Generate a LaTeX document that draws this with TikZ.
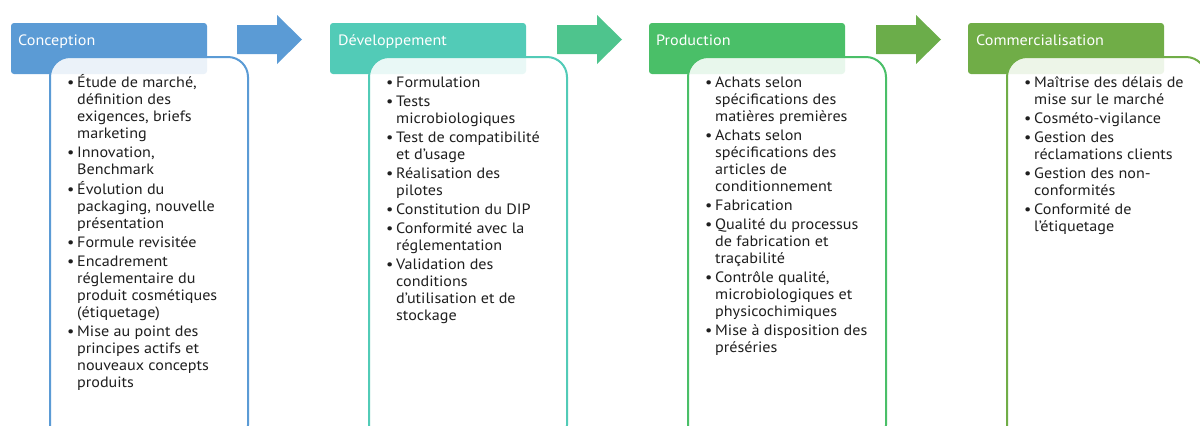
\documentclass[tikz,border=0pt]{standalone}
\usepackage{fontspec}
\setmainfont{PT Sans}[FakeStretch=1.075]
\definecolor{cblue}{HTML}{5B9BD5}
\definecolor{cteal}{HTML}{52CBB7}
\definecolor{cgreen}{HTML}{4ABF68}
\definecolor{colive}{HTML}{70AD47}
\definecolor{atwo}{HTML}{4EC48D}
\definecolor{athree}{HTML}{6BAD4A}
\newcommand\bl{\makebox[10bp][l]{•}}
\newcommand\ilist[1]{\begin{tabular}[t]{@{}l@{}l@{}}#1\end{tabular}}
\tikzset{
  headbox/.style={fill=#1, rounded corners=3bp},
  bodybox/.style={draw=#1, line width=2bp, fill=white, fill opacity=0.88, draw opacity=1, rounded corners=20bp},
  htext/.style={anchor=base west, inner sep=0pt, text=white, font=\fontsize{15bp}{17bp}\selectfont},
  ltext/.style={anchor=base west, inner sep=0pt, text=black!88, font=\fontsize{15bp}{17bp}\selectfont},
  flowarrow/.style={fill=#1},
}
\begin{document}
\begin{tikzpicture}[x=1bp,y=-1bp]
\useasboundingbox (0,0) rectangle (1200,425);
\clip (0,0) rectangle (1200,425);
% arrows
\foreach \o/\c in {0/cblue,320/atwo,639/athree}{
  \fill[flowarrow=\c] (237+\o,25) -- (277+\o,25) -- (277+\o,15) -- (302+\o,39.5) -- (277+\o,64) -- (277+\o,54) -- (237+\o,54) -- cycle;
}
% column 1
\fill[headbox=cblue] (11,23) rectangle (207,74);
\node[htext] (h1) at (18,45) {Conception};
\draw[bodybox=cblue] (50,57) rectangle (248,445);
\node[ltext] (l1) at (67,87) {\ilist{%
\bl & Étude de marché,\\ & définition des\\ & exigences, briefs\\ & marketing\\[2bp]
\bl & Innovation,\\ & Benchmark\\[2bp]
\bl & Évolution du\\ & packaging, nouvelle\\ & présentation\\[2bp]
\bl & Formule revisitée\\[2bp]
\bl & Encadrement\\ & réglementaire du\\ & produit cosmétiques\\ & (étiquetage)\\[2bp]
\bl & Mise au point des\\ & principes actifs et\\ & nouveaux concepts\\ & produits}};
% column 2
\fill[headbox=cteal] (330,23) rectangle (526,74);
\node[htext] (h2) at (338,45) {Développement};
\draw[bodybox=cteal] (369,57) rectangle (567,445);
\node[ltext] (l2) at (386,87) {\ilist{%
\bl & Formulation\\[2bp]
\bl & Tests\\ & microbiologiques\\[2bp]
\bl & Test de compatibilité\\ & et d'usage\\[2bp]
\bl & Réalisation des\\ & pilotes\\[2bp]
\bl & Constitution du DIP\\[2bp]
\bl & Conformité avec la\\ & réglementation\\[2bp]
\bl & Validation des\\ & conditions\\ & d'utilisation et de\\ & stockage}};
% column 3
\fill[headbox=cgreen] (649,23) rectangle (845,74);
\node[htext] (h3) at (656,45) {Production};
\draw[bodybox=cgreen] (688,57) rectangle (886,445);
\node[ltext] (l3) at (705,87) {\ilist{%
\bl & Achats selon\\ & spécifications des\\ & matières premières\\[2bp]
\bl & Achats selon\\ & spécifications des\\ & articles de\\ & conditionnement\\[2bp]
\bl & Fabrication\\[2bp]
\bl & Qualité du processus\\ & de fabrication et\\ & traçabilité\\[2bp]
\bl & Contrôle qualité,\\ & microbiologiques et\\ & physicochimiques\\[2bp]
\bl & Mise à disposition des\\ & préséries}};
% column 4
\fill[headbox=colive] (968,23) rectangle (1164,74);
\node[htext] (h4) at (976,45) {Commercialisation};
\draw[bodybox=colive] (1007,57) rectangle (1206,445);
\node[ltext] (l4) at (1024,87) {\ilist{%
\bl & Maîtrise des délais de\\ & mise sur le marché\\[2bp]
\bl & Cosméto-vigilance\\[2bp]
\bl & Gestion des\\ & réclamations clients\\[2bp]
\bl & Gestion des non-\\ & conformités\\[2bp]
\bl & Conformité de\\ & l'étiquetage}};
\end{tikzpicture}
\end{document}
